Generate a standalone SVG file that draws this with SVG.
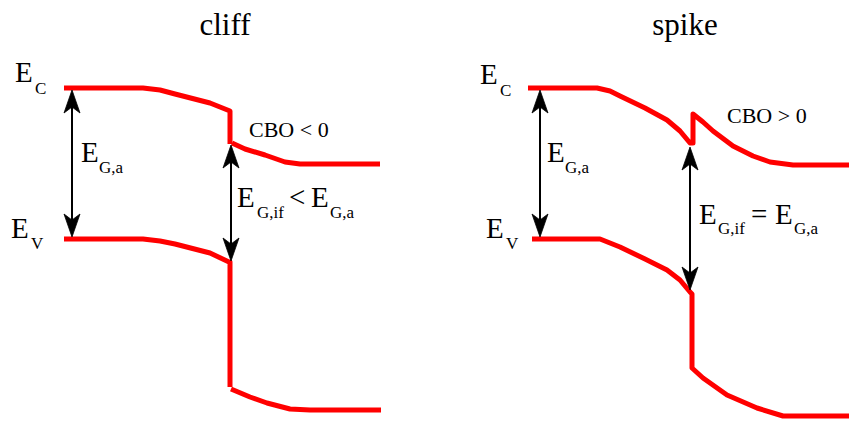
<svg xmlns="http://www.w3.org/2000/svg" width="849" height="423" viewBox="0 0 849 423">
<style>
.band{fill:none;stroke:#ff0000;stroke-width:5;stroke-linejoin:round}
.arr{fill:none;stroke:#000;stroke-width:2;marker-start:url(#ah);marker-end:url(#ah)}
text{font-family:"Liberation Serif","Times New Roman",serif;fill:#000}
.t{font-size:31px;text-anchor:middle}
.e{font-size:29px}
.s{font-size:17px}
.c{font-size:22px}
</style>
<defs>
<marker id="ah" markerUnits="userSpaceOnUse" orient="auto-start-reverse" viewBox="0 0 24 18" refX="16" refY="9" markerWidth="24" markerHeight="18">
<path d="M24,9 L1,1 L7,9 L1,17 Z" fill="#000" stroke="#000" stroke-width="0.8" stroke-linejoin="round"/>
</marker>
</defs>
<rect width="849" height="423" fill="#fff"/>
<g id="titles">
<text class="t" x="225" y="35">cliff</text>
<text class="t" x="685" y="35">spike</text>
</g>
<g id="cliff-bands">
<polyline id="cliff-cb" class="band" points="64,88 143,88 160,90 175,94 210,103 230,111 230,144"/>
<polyline id="cliff-cb2" class="band" points="232,143 245,149 265,155 285,162 300,164 380,164"/>
<polyline id="cliff-vb" class="band" points="64,239 143,239 160,241 175,244 210,253 229,262 230,262 230,387"/>
<polyline id="cliff-vb2" class="band" points="231,389 250,397 267,403 290,409 310,410 381,410"/>
</g>
<g id="spike-bands">
<polyline id="spike-cb" class="band" points="528,88 597,88 610,91 620,96 645,108 667,120 680,131 690,143 693,143 693,114 703,122 713,131 733,146 753,156 770,162 793,165 849,165"/>
<polyline id="spike-vb" class="band" points="532,239 600,239 620,247 645,259 667,270 680,280 690,292 692,294 692,368 703,378 727,395 757,408 783,416 849,416"/>
</g>
<g id="connectors">
<line class="arr" x1="72" y1="98" x2="72" y2="229"/>
<line class="arr" x1="231" y1="153" x2="231" y2="253"/>
<line class="arr" x1="540" y1="98" x2="540" y2="229"/>
<line class="arr" x1="690" y1="155" x2="690" y2="282"/>
</g>
<g id="cliff-labels">
<text class="e" x="15" y="82">E</text><text class="s" x="35" y="94">C</text>
<text class="e" x="11" y="238">E</text><text class="s" x="31" y="249">V</text>
<text class="e" x="81" y="162">E</text><text class="s" x="99" y="173">G,a</text>
<text class="c" x="249" y="137">CBO &lt; 0</text>
<text class="e" x="237" y="207">E</text><text class="s" x="257" y="218">G,if</text>
<text class="e" x="289" y="207">&lt;</text>
<text class="e" x="311" y="207">E</text><text class="s" x="330" y="218">G,a</text>
</g>
<g id="spike-labels">
<text class="e" x="480" y="84">E</text><text class="s" x="500" y="96">C</text>
<text class="e" x="486" y="238">E</text><text class="s" x="506" y="249">V</text>
<text class="e" x="547" y="162">E</text><text class="s" x="565" y="173">G,a</text>
<text class="c" x="727" y="123">CBO &gt; 0</text>
<text class="e" x="699" y="224">E</text><text class="s" x="718" y="234">G,if</text>
<text class="e" x="751" y="224">=</text>
<text class="e" x="775" y="224">E</text><text class="s" x="794" y="234">G,a</text>
</g>
</svg>
